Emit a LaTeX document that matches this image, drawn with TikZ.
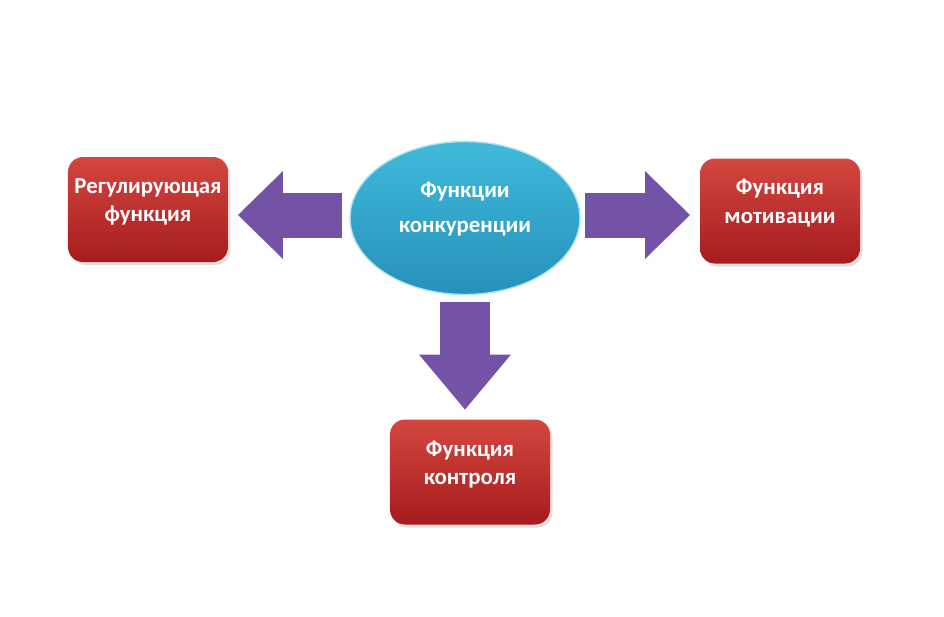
\documentclass[tikz,border=0pt]{standalone}
\usepackage{fontspec}
\setmainfont{Carlito}
\usepackage{tikz}
\usetikzlibrary{shapes.geometric, arrows.meta, positioning, shadows, calc}
\definecolor{boxtop}{HTML}{D4463F}
\definecolor{boxbot}{HTML}{A61C1E}
\definecolor{elltop}{HTML}{40BADB}
\definecolor{ellbot}{HTML}{2690BA}
\definecolor{arrowfill}{HTML}{7452A6}
\tikzstyle{funcbox} = [rectangle, rounded corners=3mm, minimum width=32mm, minimum height=21mm, align=center, inner sep=1mm, outer sep=0pt, text depth=11pt, top color=boxtop, bottom color=boxbot, draw=none, drop shadow={opacity=0.25, shadow xshift=0.5mm, shadow yshift=-0.6mm}, text=white, font=\bfseries\fontsize{13}{16}\selectfont]
\tikzstyle{mainell} = [ellipse, minimum width=46mm, minimum height=30.6mm, align=center, inner sep=0pt, outer sep=0pt, text depth=12pt, top color=elltop, bottom color=ellbot, draw=elltop!40!white, line width=0.8pt, text=white, font=\bfseries\fontsize{13}{16}\selectfont]
\tikzstyle{fat} = [draw=arrowfill, line width=9mm, -{Triangle[length=9mm 0 0, width=17.6mm 0 0, line width=0pt, fill=arrowfill]}]

\begin{document}
\begin{tikzpicture}
  \useasboundingbox (-93mm,43.6mm) rectangle (95.8mm,-79.6mm);
  \node[mainell] (ell) at (0,0) {Функции\\[4pt]конкуренции};
  \node[funcbox, left=24.4mm of ell, yshift=1.7mm] (reg) {Регулирующая\\функция};
  \node[funcbox, right=24mm of ell, yshift=1.4mm] (mot) {Функция\\мотивации};
  \node[funcbox, below=25mm of ell, xshift=1mm] (ctl) {Функция\\контроля};

  \draw[fat, shorten <=1.6mm, shorten >=2mm] ([yshift=0.6mm]ell.west) -- ([yshift=0.6mm]ell.west -| reg.east);
  \draw[fat, shorten <=1mm, shorten >=2mm] ([yshift=0.6mm]ell.east) -- ([yshift=0.6mm]ell.east -| mot.west);
  \draw[fat, line width=10mm, -{Triangle[length=11mm 0 0, width=18.4mm 0 0, line width=0pt, fill=arrowfill]}, shorten <=1.4mm, shorten >=2mm] (ell.south) -- (ell.south |- ctl.north);
\end{tikzpicture}
\end{document}
